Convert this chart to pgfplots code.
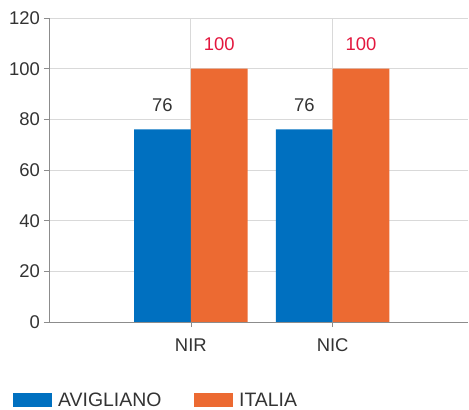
\documentclass[border=0pt]{standalone}
\usepackage{pgfplots}
\pgfplotsset{compat=1.18}
\usepackage{fontspec}
\setmainfont{Liberation Sans}
\definecolor{cblue}{HTML}{0070C0}
\definecolor{corange}{HTML}{EC6A32}
\definecolor{cred}{HTML}{E3173E}
\definecolor{ctext}{HTML}{333333}
\definecolor{cgrid}{HTML}{D9D9D9}
\definecolor{caxis}{HTML}{8C8C8C}
\begin{document}
\begin{tikzpicture}
\begin{axis}[
  scale only axis,
  width=419bp, height=304bp,
  ybar=0pt, bar width=0.4,
  xmin=-1, xmax=1.954,
  ymin=0, ymax=120,
  ytick={0,20,...,120},
  xtick={0,1}, xticklabels={NIR,NIC},
  axis lines=left,
  axis line style={-, caxis},
  tick style={caxis, thin},
  major tick length=5bp,
  tick align=outside,
  ymajorgrids, xmajorgrids,
  grid style={cgrid, line width=0.8pt},
  font=\fontsize{18.5}{21}\selectfont,
  ticklabel style={text=ctext},
  yticklabel style={inner sep=0pt, xshift=-4bp},
  xticklabel style={inner sep=0pt, anchor=north, text height=13.3bp, text depth=0pt, yshift=-10.5bp},
  /pgf/number format/assume math mode=true,
  legend style={draw=none, at={(axis description cs:-0.086,-0.257)}, anchor=west, inner sep=0pt,
    legend columns=2, font=\fontsize{19.5}{22}\selectfont, text=ctext,
    /tikz/every odd column/.append style={column sep=4bp},
    /tikz/every even column/.append style={column sep=30bp}},
  legend image code/.code={\fill[#1] (0bp,-7bp) rectangle (39bp,7bp);},
  legend cell align=left,
  nodes near coords,
  every node near coord/.append style={anchor=south, inner sep=0pt, yshift=18bp},
]
\addplot[fill=cblue, draw=none, every node near coord/.append style={text=ctext}] coordinates {(0,76) (1,76)};
\addplot[fill=corange, draw=none, every node near coord/.append style={text=cred}] coordinates {(0,100) (1,100)};
\legend{\makebox[104bp][l]{AVIGLIANO}, ITALIA}
\end{axis}
\path (current axis.south west) ++(-49bp,-86bp) coordinate (bl);
\path (current axis.north east) ++(1bp,18bp) coordinate (tr);
\path (bl) rectangle (tr);
\end{tikzpicture}
\end{document}
